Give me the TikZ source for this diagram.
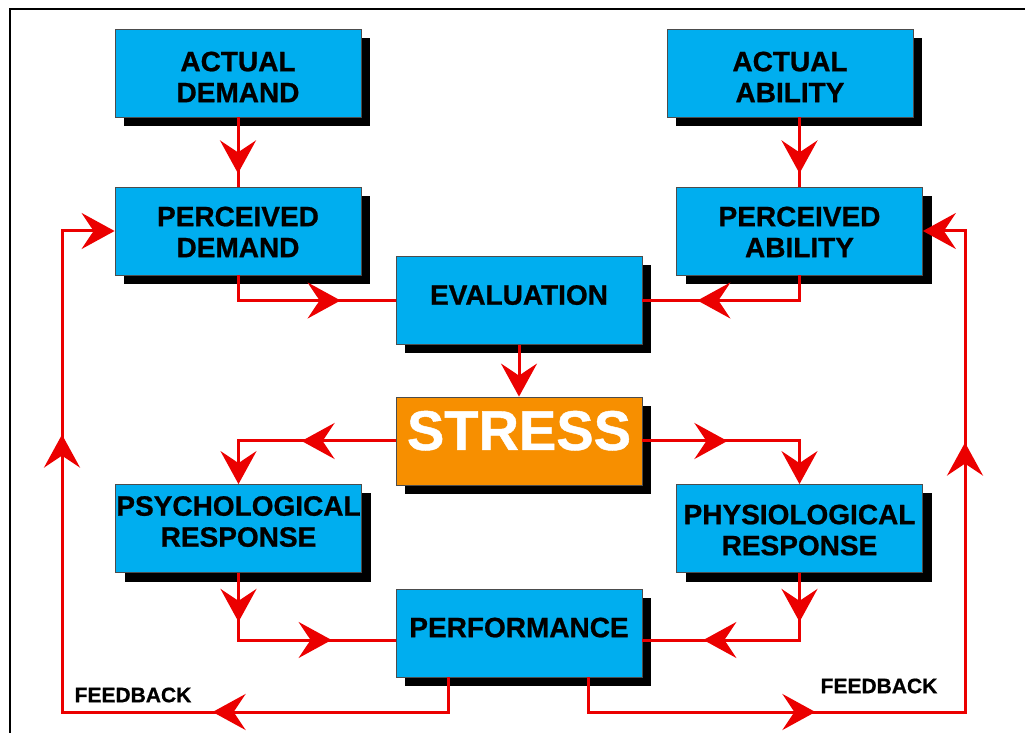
\documentclass[tikz,border=0pt]{standalone}
\usepackage{fontspec}
\setmainfont{Liberation Sans}[BoldFeatures={FakeBold=0.8}]
\usetikzlibrary{arrows.meta,shadows,decorations.markings,calc}
\definecolor{boxblue}{RGB}{0,174,239}
\definecolor{stressorange}{RGB}{247,143,0}
\definecolor{linered}{RGB}{235,0,0}
% #1 extra height (moves text down by half), #2 extra depth (moves text up by half)
\newcommand\bxt[3]{\raisebox{0pt}[\dimexpr\height+#1\relax][\dimexpr\depth+#2\relax]{\begin{tabular}{@{}c@{}}#3\end{tabular}}}
\begin{document}
\begin{tikzpicture}[x=0.5pt,y=-0.5pt,
  >={Stealth[length=16.5pt,width=18pt,inset=6pt]},
  box/.style={draw=black!70, line width=0.4pt, fill=boxblue,
    minimum width=123pt, minimum height=44pt, inner sep=0pt,
    font=\fontsize{14}{15.5}\selectfont\bfseries,
    drop shadow={shadow xshift=4.5pt, shadow yshift=-4.5pt, fill=black, opacity=1}},
  stressbox/.style={box, fill=stressorange, text=white,
    font=\fontsize{28}{30}\selectfont\bfseries},
  conn/.style={draw=linered, line width=1.5pt},
  midtip/.style={postaction={decorate,decoration={markings,
    mark=at position #1 with {\arrow{>}}}}},
  fblabel/.style={font=\fontsize{10.5}{12}\selectfont\bfseries, inner sep=0pt},
  frame/.style={draw=black, line width=1pt}
]
\useasboundingbox (0,0) rectangle (1025,733);

% frame
\draw[frame] (10,733) -- (10,9) -- (1025,9);

% boxes
\node[box] (AD) at (238,73) {\bxt{7.5pt}{0pt}{ACTUAL\\DEMAND}};
\node[box] (AA) at (790,73) {\bxt{7.5pt}{0pt}{ACTUAL\\ABILITY}};
\node[box] (PD) at (238,231) {\bxt{4.5pt}{0pt}{PERCEIVED\\DEMAND}};
\node[box] (PA) at (799.5,231) {\bxt{4.5pt}{0pt}{PERCEIVED\\ABILITY}};
\node[box] (EV) at (519,300.5) {\bxt{0pt}{2pt}{EVALUATION}};
\node[stressbox] (ST) at (519,441) {\bxt{0pt}{3pt}{STRESS}};
\node[box] (PSY) at (238.5,528.5) {\bxt{0pt}{3.5pt}{PSYCHOLOGICAL\\RESPONSE}};
\node[box] (PHY) at (799.5,528.5) {\bxt{5pt}{0pt}{PHYSIOLOGICAL\\RESPONSE}};
\node[box] (PF) at (519,633) {\bxt{0pt}{2pt}{PERFORMANCE}};

% labels
\node[fblabel] (fb1) at (133,695) {FEEDBACK};
\node[fblabel] (fb2) at (879,686) {FEEDBACK};

% connectors
\draw[conn, midtip=28pt] (AD.south) -- (PD.north);
\draw[conn, midtip=28pt] (AA.south -| PA.north) -- (PA.north);
\draw[conn, midtip=-27.5pt] (PD.south) |- (EV.west);
\draw[conn, midtip=-27.5pt] (PA.south) |- (EV.east);
\draw[conn, ->] (EV.south) -- (ST.north);
\draw[conn, ->, midtip=47pt] (ST.west) -| (PSY.north);
\draw[conn, ->, midtip=42.5pt] (ST.east) -| (PHY.north);
\draw[conn, midtip=24.5pt, midtip=-32pt] (PSY.south) |- ([yshift=-3.5pt]PF.west);
\draw[conn, midtip=24.5pt, midtip=-30.5pt] (PHY.south) |- ([yshift=-3.5pt]PF.east);
\coordinate (fbL) at (62,712);
\coordinate (fbR) at (965,712);
\draw[conn, ->, midtip=135pt, midtip=349pt]
  ([xshift=-35.5pt]PF.south) |- (fbL) |- (PD.west);
\draw[conn, ->, midtip=131pt, midtip=340.5pt]
  ([xshift=34.5pt]PF.south) |- (fbR) |- (PA.east);
\end{tikzpicture}
\end{document}
